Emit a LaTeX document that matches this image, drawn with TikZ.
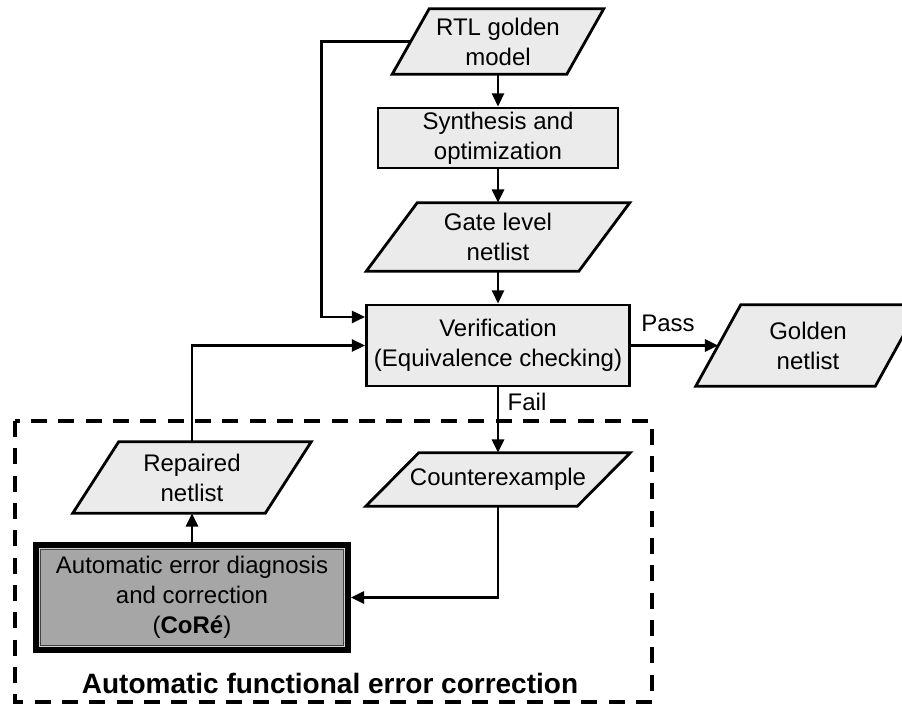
\documentclass[tikz,border=0pt]{standalone}
\usepackage{fontspec}
\setmainfont{Liberation Sans}
\usetikzlibrary{arrows.meta,backgrounds,calc}

% one unit of the drawing grid
\newdimen\pxu \pxu=0.75pt

\definecolor{boxgray}{HTML}{EBEBEB}
\definecolor{coregray}{HTML}{A6A6A6}
\definecolor{coreedge}{HTML}{D2D2D2}

\newcommand{\nodefont}{\fontsize{18}{22.5}\selectfont}
\newcommand{\titlefont}{\fontsize{21}{25}\selectfont\bfseries}

% parallelogram drawn round a named node; #2 = half of the horizontal slant
\newcommand{\slantshape}[2]{%
  \filldraw[shapeline]
    ([xshift=#2\pxu]#1.north west) -- ([xshift=#2\pxu]#1.north east) --
    ([xshift=-#2\pxu]#1.south east) -- ([xshift=-#2\pxu]#1.south west) -- cycle;}

\tikzset{
  base/.style={inner sep=0pt, align=center, font=\nodefont, text=black},
  box/.style={base, draw=black, fill=boxgray, line width=2.1pt},
  shapeline/.style={draw=black, fill=boxgray, line width=2.1pt, line join=miter},
  arr/.style={-{Triangle[length=10pt,width=9pt]}, line width=2.1pt},
  lbl/.style={inner sep=0pt, font=\nodefont, text=black},
  dashbox/.style={draw=black, line width=3pt, dash pattern=on 12pt off 8.5pt},
}

\begin{document}
\begin{tikzpicture}[x=0.75pt, y=-0.75pt]
\clip (0,0) rectangle (902,706);

% main column
\node[base, minimum width=174\pxu, minimum height=65\pxu] (rtl) at (498,41.5) {RTL golden\\model};
\node[box, minimum width=240\pxu, minimum height=60\pxu] (syn) at (498,138) {Synthesis and\\optimization};
\node[base, minimum width=212\pxu, minimum height=68\pxu] (gate) at (498,237) {Gate level\\netlist};
\node[box, minimum width=263\pxu, minimum height=81\pxu] (ver) at (498,345.5) {Verification\\(Equivalence checking)};
\node[base, minimum width=179\pxu, minimum height=81\pxu] (gold) at (808,345.5) {Golden\\netlist};

% correction loop
\node[base, minimum width=211\pxu, minimum height=53\pxu] (cex) at (498,479.5) {Counterexample};
\node[base, minimum width=192\pxu, minimum height=71\pxu] (rep) at (192,477.5) {Repaired\\netlist};
\node[base, minimum width=317\pxu, minimum height=111\pxu] (core) at (192,597.5)
  {Automatic error diagnosis\\and correction\\(\textbf{CoRé})};

% shape outlines behind the texts
\begin{scope}[on background layer]
  \clip (0,0) rectangle (902,706);
  \fill[white] (0,0) rectangle (902,706);
  \slantshape{rtl}{18.5}
  \slantshape{gate}{25.5}
  \slantshape{gold}{22.5}
  \slantshape{cex}{26.5}
  \slantshape{rep}{23}
  \fill[black] (core.north west) rectangle (core.south east);
  \fill[coreedge] ([shift={(6\pxu,-6\pxu)}]core.north west) rectangle ([shift={(-6\pxu,6\pxu)}]core.south east);
  \filldraw[fill=coregray, draw=black!75, line width=0.6pt]
    ([shift={(7.5\pxu,-7.5\pxu)}]core.north west) rectangle ([shift={(-7.5\pxu,7.5\pxu)}]core.south east);
\end{scope}

% dashed frame of the correction block
\draw[dashbox] (15,421) rectangle (652,702);
\node[lbl, font=\titlefont] (afec) at (330,683) {Automatic functional error correction};

% connectors
\draw[arr] (rtl.south) -- (syn.north);
\draw[arr] (syn.south) -- (gate.north);
\draw[arr] (gate.south) -- (ver.north);
\draw[arr] (ver.east) -- (gold.west);
\draw[arr] (ver.south) -- (cex.north);
\draw[arr] (cex.south) |- (core.east);
\draw[arr] (core.north) -- (rep.south);
\draw[arr] (rep.north) |- (ver.west);
\draw[arr] (rtl.west) -- ++(-89,0) |- ([yshift=21.4pt]ver.west);

% branch labels
\node[lbl] (pass) at (668,323) {Pass};
\node[lbl] (fail) at (527,402) {Fail};
\end{tikzpicture}
\end{document}
